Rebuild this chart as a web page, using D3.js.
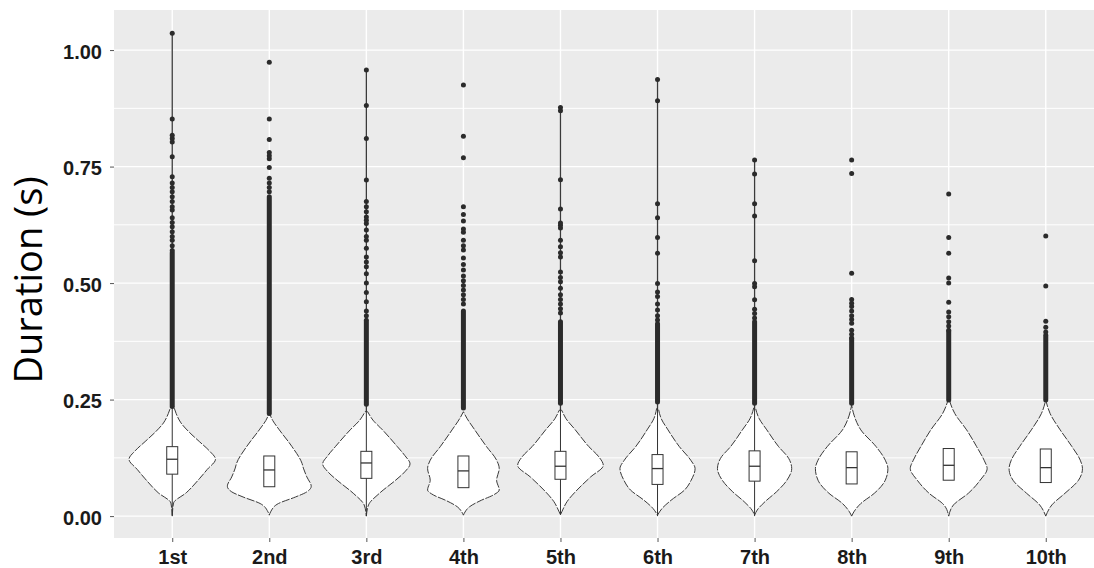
<!DOCTYPE html>
<html>
<head>
<meta charset="utf-8">
<script src="https://cdnjs.cloudflare.com/ajax/libs/d3/7.8.5/d3.min.js"></script>
<style>
  body { margin: 0; background: #fff; }
  svg { display: block; }
</style>
</head>
<body>
<svg id="chart" width="1094" height="568"></svg>
<script>
const categories = ["1st", "2nd", "3rd", "4th", "5th", "6th", "7th", "8th", "9th", "10th"];

const q1s = [0.090, 0.063, 0.081, 0.061, 0.079, 0.068, 0.075, 0.069, 0.077, 0.072];
const medians = [0.122, 0.099, 0.114, 0.097, 0.107, 0.102, 0.107, 0.104, 0.109, 0.104];
const q3s = [0.149, 0.129, 0.139, 0.129, 0.139, 0.132, 0.140, 0.138, 0.145, 0.144];

// whiskers only show on some of the groups
const whiskerLo = [0.002, null, 0.0, null, 0.003, 0.0, 0.0, null, null, null];
const whiskerHi = [0.238, null, 0.226, null, 0.230, 0.232, 0.232, null, null, null];

// violin outline: [duration, relative half width]
const violins = [
  [[0, 0], [0.028, 0.03], [0.05, 0.32], [0.08, 0.62], [0.10, 0.80], [0.122, 0.99], [0.14, 0.85], [0.16, 0.62], [0.18, 0.39], [0.20, 0.20], [0.22, 0.09], [0.24, 0.02]],
  [[0.002, 0], [0.009, 0.03], [0.027, 0.21], [0.041, 0.60], [0.052, 0.86], [0.064, 0.96], [0.084, 0.86], [0.103, 0.78], [0.113, 0.75], [0.149, 0.52], [0.185, 0.23], [0.205, 0.08], [0.221, 0]],
  [[0, 0], [0.024, 0.05], [0.049, 0.30], [0.077, 0.67], [0.095, 0.88], [0.112, 1.0], [0.13, 0.88], [0.149, 0.71], [0.185, 0.37], [0.206, 0.15], [0.224, 0.03]],
  [[0.002, 0], [0.006, 0.02], [0.02, 0.14], [0.034, 0.41], [0.045, 0.68], [0.056, 0.82], [0.077, 0.76], [0.102, 0.82], [0.12, 0.76], [0.149, 0.53], [0.185, 0.26], [0.21, 0.08], [0.224, 0]],
  [[0.003, 0], [0.009, 0.03], [0.031, 0.15], [0.056, 0.38], [0.084, 0.69], [0.109, 0.98], [0.127, 0.88], [0.149, 0.65], [0.185, 0.34], [0.21, 0.12], [0.227, 0.03]],
  [[0.002, 0], [0.016, 0.10], [0.034, 0.31], [0.056, 0.62], [0.077, 0.77], [0.102, 0.86], [0.12, 0.76], [0.149, 0.50], [0.185, 0.24], [0.21, 0.08], [0.231, 0.02]],
  [[0.002, 0], [0.013, 0.06], [0.031, 0.24], [0.052, 0.50], [0.077, 0.74], [0.102, 0.85], [0.124, 0.78], [0.149, 0.55], [0.185, 0.28], [0.21, 0.10], [0.232, 0.02]],
  [[0, 0], [0.009, 0.05], [0.027, 0.21], [0.049, 0.52], [0.077, 0.77], [0.102, 0.83], [0.12, 0.77], [0.149, 0.56], [0.185, 0.21], [0.215, 0.06], [0.238, 0]],
  [[0, 0], [0.024, 0.11], [0.049, 0.45], [0.077, 0.72], [0.102, 0.88], [0.12, 0.81], [0.149, 0.64], [0.185, 0.41], [0.22, 0.14], [0.253, 0]],
  [[0, 0], [0.024, 0.14], [0.049, 0.44], [0.077, 0.75], [0.102, 0.84], [0.12, 0.79], [0.149, 0.60], [0.185, 0.33], [0.22, 0.10], [0.249, 0]]
];

// thin violin tail running up to the max value (null = trimmed)
const tailTop = [1.036, null, 0.957, null, 0.875, 0.937, 0.764, null, null, null];

// runs of overlapping outliers, drawn as one solid column
const denseLo = [0.235, 0.220, 0.240, 0.232, 0.242, 0.245, 0.242, 0.242, 0.249, 0.249];
const denseHi = [0.565, 0.685, 0.420, 0.440, 0.417, 0.413, 0.417, 0.381, 0.396, 0.388];

const outliers = [
  [0.57, 0.58, 0.592, 0.60, 0.61, 0.621, 0.63, 0.64, 0.657, 0.664, 0.675, 0.685, 0.696, 0.705, 0.715, 0.728, 0.771, 0.803, 0.81, 0.817, 0.852, 1.036],
  [0.696, 0.705, 0.715, 0.725, 0.748, 0.767, 0.773, 0.78, 0.808, 0.852, 0.974],
  [0.43, 0.44, 0.46, 0.48, 0.50, 0.52, 0.535, 0.545, 0.556, 0.575, 0.592, 0.60, 0.614, 0.628, 0.635, 0.642, 0.653, 0.664, 0.675, 0.721, 0.81, 0.881, 0.957],
  [0.455, 0.465, 0.475, 0.485, 0.495, 0.505, 0.515, 0.528, 0.54, 0.554, 0.571, 0.58, 0.592, 0.609, 0.616, 0.633, 0.647, 0.664, 0.769, 0.815, 0.925],
  [0.436, 0.445, 0.455, 0.465, 0.475, 0.489, 0.503, 0.512, 0.524, 0.556, 0.565, 0.578, 0.592, 0.618, 0.624, 0.629, 0.659, 0.722, 0.870, 0.877],
  [0.421, 0.43, 0.442, 0.455, 0.471, 0.481, 0.499, 0.564, 0.598, 0.64, 0.67, 0.891, 0.937],
  [0.425, 0.435, 0.444, 0.464, 0.492, 0.499, 0.548, 0.644, 0.67, 0.734, 0.764],
  [0.382, 0.39, 0.399, 0.414, 0.422, 0.43, 0.44, 0.45, 0.457, 0.465, 0.521, 0.735, 0.764],
  [0.399, 0.408, 0.417, 0.428, 0.438, 0.459, 0.50, 0.511, 0.564, 0.598, 0.691],
  [0.395, 0.405, 0.418, 0.494, 0.601]
];

const yTicks = [0, 0.25, 0.5, 0.75, 1.0];
const yMinor = [0.125, 0.375, 0.625, 0.875];

const svg = d3.select("#chart");
const x = d3.scalePoint().domain(categories).range([114, 1104]).padding(0.6);
const y = d3.scaleLinear().domain([-0.047, 1.086]).range([538, 10]);
const halfW = d3.scaleLinear().domain([0, 1]).range([0, x.step() * 0.45]);
const [panelLeft, panelRight] = x.range();
const [panelBottom, panelTop] = y.range();

// panel + grid
svg.append("rect")
  .attr("x", panelLeft).attr("y", panelTop)
  .attr("width", panelRight - panelLeft).attr("height", panelBottom - panelTop)
  .attr("fill", "#EBEBEB");

svg.append("g").selectAll("line").data(yMinor).join("line")
  .attr("x1", panelLeft).attr("x2", panelRight)
  .attr("y1", d => y(d)).attr("y2", d => y(d))
  .attr("stroke", "#fff").attr("stroke-width", 1);

svg.append("g").selectAll("line").data(yTicks).join("line")
  .attr("x1", panelLeft).attr("x2", panelRight)
  .attr("y1", d => y(d)).attr("y2", d => y(d))
  .attr("stroke", "#fff").attr("stroke-width", 1.4);

svg.append("g").selectAll("line").data(categories).join("line")
  .attr("x1", d => x(d)).attr("x2", d => x(d))
  .attr("y1", panelTop).attr("y2", panelBottom)
  .attr("stroke", "#fff").attr("stroke-width", 1.4);

// axes
const yAxis = svg.append("g")
  .attr("transform", `translate(${panelLeft},0)`)
  .call(d3.axisLeft(y).tickValues(yTicks).tickFormat(d3.format(".2f")).tickSize(4).tickPadding(8));
const xAxis = svg.append("g")
  .attr("transform", `translate(0,${panelBottom})`)
  .call(d3.axisBottom(x).tickSize(4).tickPadding(7.5));

[yAxis, xAxis].forEach(g => {
  g.select(".domain").remove();
  g.selectAll(".tick line").attr("stroke", "#555");
  g.selectAll(".tick text")
    .attr("font-family", "'Liberation Sans', Arial, sans-serif")
    .attr("font-size", 20)
    .attr("font-weight", "bold")
    .attr("fill", "#1a1a1a");
});
yAxis.selectAll(".tick text").attr("dy", "0.4em");

svg.append("text")
  .attr("transform", `translate(42,${(panelBottom + panelTop) / 2 + 6}) rotate(-90)`)
  .attr("text-anchor", "middle")
  .attr("font-family", "'Open Sans', 'Noto Sans', sans-serif")
  .attr("font-size", 38)
  .attr("fill", "#000")
  .text("Duration (s)");

// violins
const groups = svg.append("g").selectAll("g").data(categories).join("g");

groups.filter((c, i) => tailTop[i] !== null).append("line")
  .attr("x1", c => x(c)).attr("x2", c => x(c))
  .attr("y1", c => y(violins[categories.indexOf(c)].at(-1)[0]))
  .attr("y2", c => y(tailTop[categories.indexOf(c)]))
  .attr("stroke", "#3a3a3a").attr("stroke-width", 1.3);

groups.append("path")
  .attr("d", (c, i) => d3.area()
    .y(d => y(d[0]))
    .x0(d => x(c) - halfW(d[1]))
    .x1(d => x(c) + halfW(d[1]))
    .curve(d3.curveMonotoneY)(violins[i]))
  .attr("fill", "#fff")
  .attr("stroke", "#3a3a3a")
  .attr("stroke-width", 1)
  .attr("stroke-dasharray", "8,1.5");

// whiskers
groups.filter((c, i) => whiskerLo[i] !== null).append("line")
  .attr("x1", c => x(c)).attr("x2", c => x(c))
  .attr("y1", c => y(whiskerLo[categories.indexOf(c)]))
  .attr("y2", c => y(whiskerHi[categories.indexOf(c)]))
  .attr("stroke", "#333").attr("stroke-width", 1);

// boxes
const boxW = 11;
groups.append("rect")
  .attr("x", c => x(c) - boxW / 2)
  .attr("y", (c, i) => y(q3s[i]))
  .attr("width", boxW)
  .attr("height", (c, i) => y(q1s[i]) - y(q3s[i]))
  .attr("fill", "#fff")
  .attr("stroke", "#333").attr("stroke-width", 1);

groups.append("line")
  .attr("x1", c => x(c) - boxW / 2).attr("x2", c => x(c) + boxW / 2)
  .attr("y1", (c, i) => y(medians[i])).attr("y2", (c, i) => y(medians[i]))
  .attr("stroke", "#333").attr("stroke-width", 1.3);

// outliers
const r = 2.5;
groups.append("rect")
  .attr("x", c => x(c) - r)
  .attr("y", (c, i) => y(denseHi[i]) - r)
  .attr("width", 2 * r)
  .attr("height", (c, i) => y(denseLo[i]) - y(denseHi[i]) + 2 * r)
  .attr("rx", r)
  .attr("fill", "#2b2b2b");

groups.each(function (c, i) {
  d3.select(this).selectAll("circle").data(outliers[i]).join("circle")
    .attr("cx", x(c))
    .attr("cy", d => y(d))
    .attr("r", r)
    .attr("fill", "#2b2b2b");
});
</script>
</body>
</html>
